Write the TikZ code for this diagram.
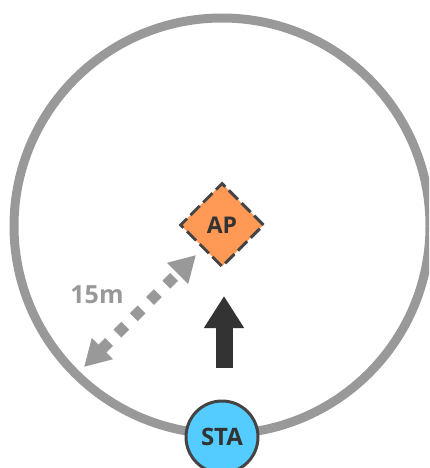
\documentclass[tikz,border=0pt]{standalone}
\usepackage{fontspec}
\setmainfont{Open Sans}
\usetikzlibrary{arrows.meta,shapes.geometric}
\definecolor{ringgray}{HTML}{999999}
\definecolor{apfill}{HTML}{FF9955}
\definecolor{dark}{HTML}{333333}
\definecolor{border}{HTML}{444444}
\definecolor{stafill}{HTML}{55CCFF}
\tikzset{
  ring/.style={draw=ringgray,line width=9pt},
  apbox/.style={diamond,draw=border,fill=apfill,line width=3pt,dash pattern=on 13pt off 5pt,minimum width=84pt,minimum height=84pt,inner sep=0pt,font=\bfseries\fontsize{23}{23}\selectfont,text=dark},
  stabox/.style={circle,draw=border,fill=stafill,line width=3pt,minimum size=72pt,inner sep=0pt,font=\bfseries\fontsize{24}{24}\selectfont,text=dark},
  dimline/.style={draw=ringgray,line width=11pt,dash pattern=on 11pt off 12pt,{Triangle[width=28pt,length=26pt]}-{Triangle[width=28pt,length=26pt]}},
  dimlabel/.style={font=\bfseries\fontsize{25}{25}\selectfont,text=ringgray},
  dirarrow/.style={draw=dark,line width=17pt,-{Triangle[width=38pt,length=32pt]}}
}
\begin{document}
\begin{tikzpicture}[x=1pt,y=-1pt]
\useasboundingbox (0,0) rectangle (429,468);
\clip (0,0) rectangle (429,468);
\draw[ring] (222,226) circle (208);
\node[apbox] (ap) at (222,225) {AP};
\node[stabox] (sta) at (222,437) {STA};
\coordinate (d1) at (84,367);
\coordinate (d2) at (196,255);
\draw[dimline] (d1) -- (d2);
\node[dimlabel] (lbl) at (97,295) {15m};
\coordinate (a1) at (224,368);
\coordinate (a2) at (224,296);
\draw[dirarrow] (a1) -- (a2);
\end{tikzpicture}
\end{document}
